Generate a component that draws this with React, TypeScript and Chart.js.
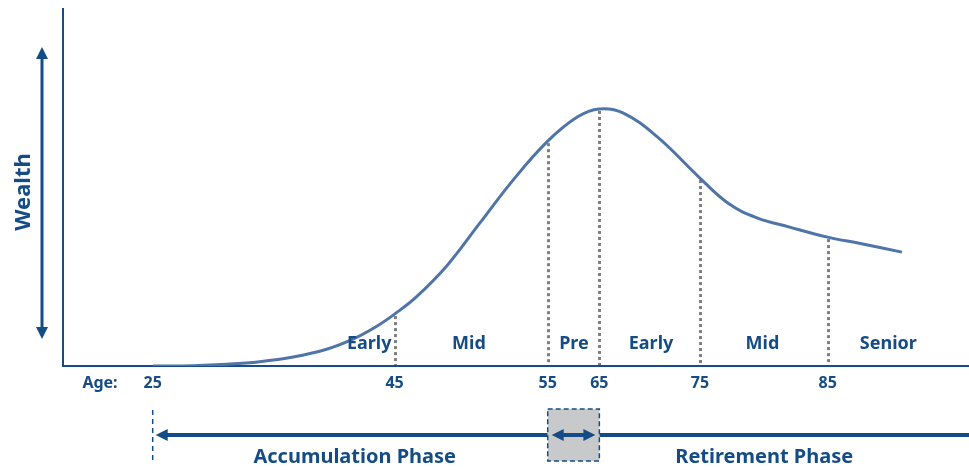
import React, { useEffect, useRef } from "react";
import { Chart, registerables } from "chart.js";

Chart.register(...registerables);

// Schematic timeline units (0–100 across the plot) and wealth units (0–100)
const ageTicks = ["25", "45", "55", "65", "75", "85"];
const agePos = [9.9, 36.6, 53.5, 59.2, 70.3, 84.4];

const curveX = [9.9, 14.3, 18.1, 21.7, 25.4, 29.0, 32.0, 34.5, 36.6, 39.0, 42.4, 46.0, 49.7, 53.5, 56.8, 59.2, 61.8, 65.6, 70.3, 73.5, 76.6, 80.2, 84.4, 88.0, 92.6];
const curveY = [0, 0.1, 0.5, 1.2, 2.5, 4.6, 7.5, 10.9, 14.5, 19.3, 28.1, 39.9, 52.0, 62.8, 69.6, 71.8, 70.7, 64.0, 52.5, 45.3, 41.4, 38.8, 36.0, 34.2, 31.8];

const stageLabels = ["Early", "Mid", "Pre", "Early", "Mid", "Senior"];
const stagePos = [33.8, 44.8, 56.4, 64.9, 77.2, 91.1];

const phaseLabels = ["Accumulation Phase", "Retirement Phase"];
const phaseLabelPos = [32.2, 77.4];

const NAVY = "#154c85";
const CURVE = "#4f75a8";
const FONT = "'Noto Sans', sans-serif";

function arrowHead(ctx: CanvasRenderingContext2D, x: number, y: number, dir: "left" | "right" | "up" | "down", len: number, half: number) {
  ctx.beginPath();
  if (dir === "left") { ctx.moveTo(x, y); ctx.lineTo(x + len, y - half); ctx.lineTo(x + len, y + half); }
  if (dir === "right") { ctx.moveTo(x, y); ctx.lineTo(x - len, y - half); ctx.lineTo(x - len, y + half); }
  if (dir === "up") { ctx.moveTo(x, y); ctx.lineTo(x - half, y + len); ctx.lineTo(x + half, y + len); }
  if (dir === "down") { ctx.moveTo(x, y); ctx.lineTo(x - half, y - len); ctx.lineTo(x + half, y - len); }
  ctx.closePath();
  ctx.fill();
}

const decorPlugin = {
  id: "decor",
  beforeDatasetsDraw(chart: any) {
    const { ctx, chartArea } = chart;
    const { left, right, top, bottom } = chartArea;
    ctx.save();
    // axes
    ctx.strokeStyle = NAVY;
    ctx.lineWidth = 2;
    ctx.beginPath();
    ctx.moveTo(left, top);
    ctx.lineTo(left, bottom);
    ctx.lineTo(right, bottom);
    ctx.stroke();
    // dotted dividers
    const xs = chart.scales.x;
    const meta = chart.getDatasetMeta(0);
    ctx.strokeStyle = "#7f7f7f";
    ctx.lineWidth = 3;
    ctx.setLineDash([3, 3]);
    for (let i = 1; i < agePos.length; i++) {
      const idx = curveX.indexOf(agePos[i]);
      const px = Math.round(xs.getPixelForValue(agePos[i])) + 0.5;
      const py = idx >= 0 ? meta.data[idx].y : top;
      ctx.beginPath();
      ctx.moveTo(px, py + 2);
      ctx.lineTo(px, bottom - 1);
      ctx.stroke();
    }
    ctx.restore();
  },
  afterDraw(chart: any) {
    const { ctx, chartArea } = chart;
    const { left, right, top, bottom } = chartArea;
    const xs = chart.scales.x;
    ctx.save();
    ctx.fillStyle = NAVY;
    ctx.strokeStyle = NAVY;

    // Wealth double arrow
    const ax = left - 21;
    ctx.lineWidth = 3;
    ctx.beginPath();
    ctx.moveTo(ax, top + 50);
    ctx.lineTo(ax, bottom - 38);
    ctx.stroke();
    arrowHead(ctx, ax, top + 39, "up", 12, 6);
    arrowHead(ctx, ax, bottom - 27, "down", 12, 6);

    // Wealth title
    ctx.save();
    ctx.translate(left - 39, (top + bottom) / 2 + 5);
    ctx.rotate(-Math.PI / 2);
    ctx.font = `bold 22px ${FONT}`;
    ctx.textAlign = "center";
    ctx.textBaseline = "middle";
    ctx.fillText("Wealth", 0, 0);
    ctx.restore();

    // Stage labels
    ctx.font = `bold 18px ${FONT}`;
    ctx.textAlign = "center";
    ctx.textBaseline = "middle";
    stageLabels.forEach((s, i) => {
      ctx.fillText(s, xs.getPixelForValue(stagePos[i]), bottom - 22);
    });

    // Age labels
    ctx.font = `bold 16px ${FONT}`;
    ctx.fillText("Age:", left + 37, bottom + 17);
    ageTicks.forEach((t, i) => {
      ctx.fillText(t, xs.getPixelForValue(agePos[i]), bottom + 17);
    });

    // Phase timeline
    const x25 = xs.getPixelForValue(agePos[0]);
    const x55 = xs.getPixelForValue(agePos[2]);
    const x65 = xs.getPixelForValue(agePos[3]);
    const ly = bottom + 69;

    // dashed start marker
    ctx.lineWidth = 1.5;
    ctx.setLineDash([5, 4]);
    ctx.beginPath();
    ctx.moveTo(x25, bottom + 44);
    ctx.lineTo(x25, bottom + 95);
    ctx.stroke();
    ctx.setLineDash([]);

    // main lines
    ctx.lineWidth = 4;
    ctx.beginPath();
    ctx.moveTo(x25 + 12, ly);
    ctx.lineTo(x55, ly);
    ctx.moveTo(x65, ly);
    ctx.lineTo(right, ly);
    ctx.stroke();
    arrowHead(ctx, x25 + 3, ly, "left", 12, 6);

    // transition box
    ctx.fillStyle = "#c8c9cb";
    ctx.fillRect(x55, bottom + 43, x65 - x55, 52);
    ctx.strokeStyle = NAVY;
    ctx.lineWidth = 1.5;
    ctx.setLineDash([5, 3]);
    ctx.strokeRect(x55, bottom + 43, x65 - x55, 52);
    ctx.setLineDash([]);
    ctx.fillStyle = NAVY;
    ctx.lineWidth = 4;
    ctx.beginPath();
    ctx.moveTo(x55 + 12, ly);
    ctx.lineTo(x65 - 12, ly);
    ctx.stroke();
    arrowHead(ctx, x55 + 4, ly, "left", 12, 6);
    arrowHead(ctx, x65 - 4, ly, "right", 12, 6);

    // phase labels
    ctx.font = `bold 20px ${FONT}`;
    ctx.textBaseline = "middle";
    phaseLabels.forEach((p, i) => {
      ctx.fillText(p, xs.getPixelForValue(phaseLabelPos[i]), bottom + 91);
    });
    ctx.restore();
  },
};

export default function App() {
  const ref = useRef<HTMLCanvasElement>(null);
  useEffect(() => {
    if (!ref.current) return;
    const chart = new Chart(ref.current, {
      type: "line",
      data: {
        datasets: [
          {
            data: curveX.map((x, i) => ({ x, y: curveY[i] })),
            borderColor: CURVE,
            borderWidth: 3,
            pointRadius: 0,
            tension: 0.4,
            fill: false,
          },
        ],
      },
      options: {
        animation: false,
        responsive: false,
        layout: { padding: { left: 63, top: 8, right: 0, bottom: 104 } },
        plugins: { legend: { display: false }, tooltip: { enabled: false } },
        scales: {
          x: { type: "linear", min: 0, max: 100, display: false },
          y: { type: "linear", min: 0, max: 100, display: false },
        },
      },
      plugins: [decorPlugin],
    } as any);
    return () => chart.destroy();
  }, []);
  return (
    <div style={{ position: "absolute", left: 0, top: 0, width: 969, height: 470, background: "#fff" }}>
      <canvas ref={ref} width={969} height={470} style={{ display: "block" }} />
    </div>
  );
}
